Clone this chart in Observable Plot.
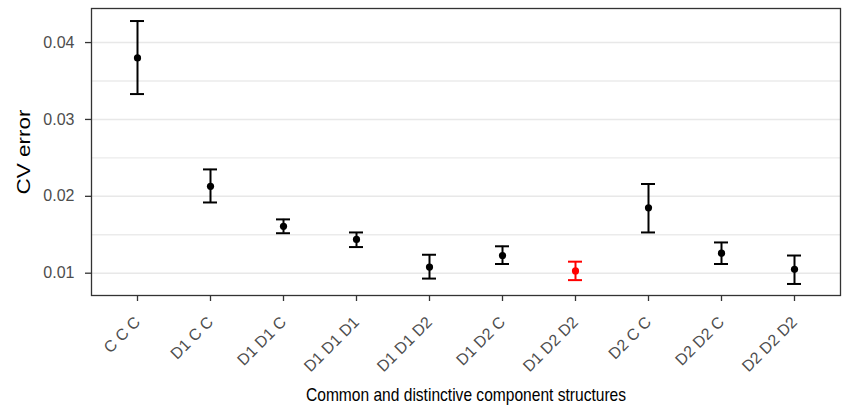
<!DOCTYPE html>
<html><head><meta charset="utf-8">
<script src="https://cdn.jsdelivr.net/npm/d3@7"></script>
<script src="https://cdn.jsdelivr.net/npm/@observablehq/plot@0.6"></script>
<style>
body{margin:0;background:#fff;}
svg text {font-family:'Liberation Sans', Arial, sans-serif !important;}
g[aria-label="y-axis label"] text, g[aria-label="x-axis label"] text {font-size:19px !important; fill:#000 !important;}
g[aria-label="y-axis tick label"] text, g[aria-label="x-axis tick label"] text {font-size:16px !important; fill:#4d4d4d !important;}
</style>
</head><body><div id="chart"></div>
<script>
const structures = ["C C C","D1 C C","D1 D1 C","D1 D1 D1","D1 D1 D2","D1 D2 C","D1 D2 D2","D2 C C","D2 D2 C","D2 D2 D2"];
const cvMean  = [0.0380, 0.0213, 0.0161, 0.0144, 0.0108, 0.0123, 0.0103, 0.0185, 0.0126, 0.0105];
const cvLower = [0.0333, 0.0192, 0.0152, 0.0134, 0.0093, 0.0112, 0.0091, 0.0153, 0.0112, 0.0086];
const cvUpper = [0.0428, 0.0235, 0.0170, 0.0153, 0.0124, 0.0135, 0.0115, 0.0216, 0.0140, 0.0123];
const highlight = "D1 D2 D2";
const yTicks = [0.01, 0.02, 0.03, 0.04];
const yMinor = [0.015, 0.025, 0.035];

const data = structures.map((s, i) => ({
  s, m: cvMean[i], lo: cvLower[i], hi: cvUpper[i],
  c: s === highlight ? "#ff0000" : "#000000"
}));

const plot = Plot.plot({
  width: 846, height: 405,
  marginLeft: 91, marginRight: 6, marginTop: 8, marginBottom: 110,
  style: {fontFamily: "'Liberation Sans', Arial, sans-serif", fontSize: "16px", color: "#4d4d4d", background: "#fff"},
  x: {type: "band", domain: structures, paddingInner: 0.81, paddingOuter: 0.505, align: 0.5},
  y: {domain: [0.0071, 0.04443]},
  color: {type: "identity"},
  marks: [
    Plot.ruleY(yMinor, {stroke: "#ebebeb", strokeWidth: 1.3}),
    Plot.ruleY(yTicks, {stroke: "#e8e8e8", strokeWidth: 1.6}),
    Plot.ruleX(data, {x: "s", y1: "lo", y2: "hi", stroke: "c", strokeWidth: 2}),
    Plot.tickY(data, {x: "s", y: "lo", stroke: "c", strokeWidth: 2}),
    Plot.tickY(data, {x: "s", y: "hi", stroke: "c", strokeWidth: 2}),
    Plot.dot(data, {x: "s", y: "m", fill: "c", r: 3.6}),
    Plot.frame({stroke: "#333", strokeWidth: 1.3}),
    Plot.axisY(yTicks, {tickSize: 6, tickPadding: 11, stroke: "#333", strokeWidth: 1.3, fontSize: 16,
      tickFormat: d => d.toFixed(2),
      label: "CV error", labelAnchor: "center", labelArrow: "none", labelOffset: 75}),
    Plot.axisX({tickSize: 6, tickPadding: 18, stroke: "#333", strokeWidth: 1.3, tickRotate: -45, fontSize: 16,
      label: "Common and distinctive component structures", labelAnchor: "center", labelArrow: "none", labelOffset: 105})
  ]
});
document.getElementById("chart").appendChild(plot);
d3.select(plot).selectAll('g[aria-label="x-axis label"] text')
  .attr("textLength", 320).attr("lengthAdjust", "spacingAndGlyphs");
d3.select(plot).selectAll('g[aria-label="y-axis label"] text')
  .attr("textLength", 85).attr("lengthAdjust", "spacingAndGlyphs");
</script>
</body></html>
